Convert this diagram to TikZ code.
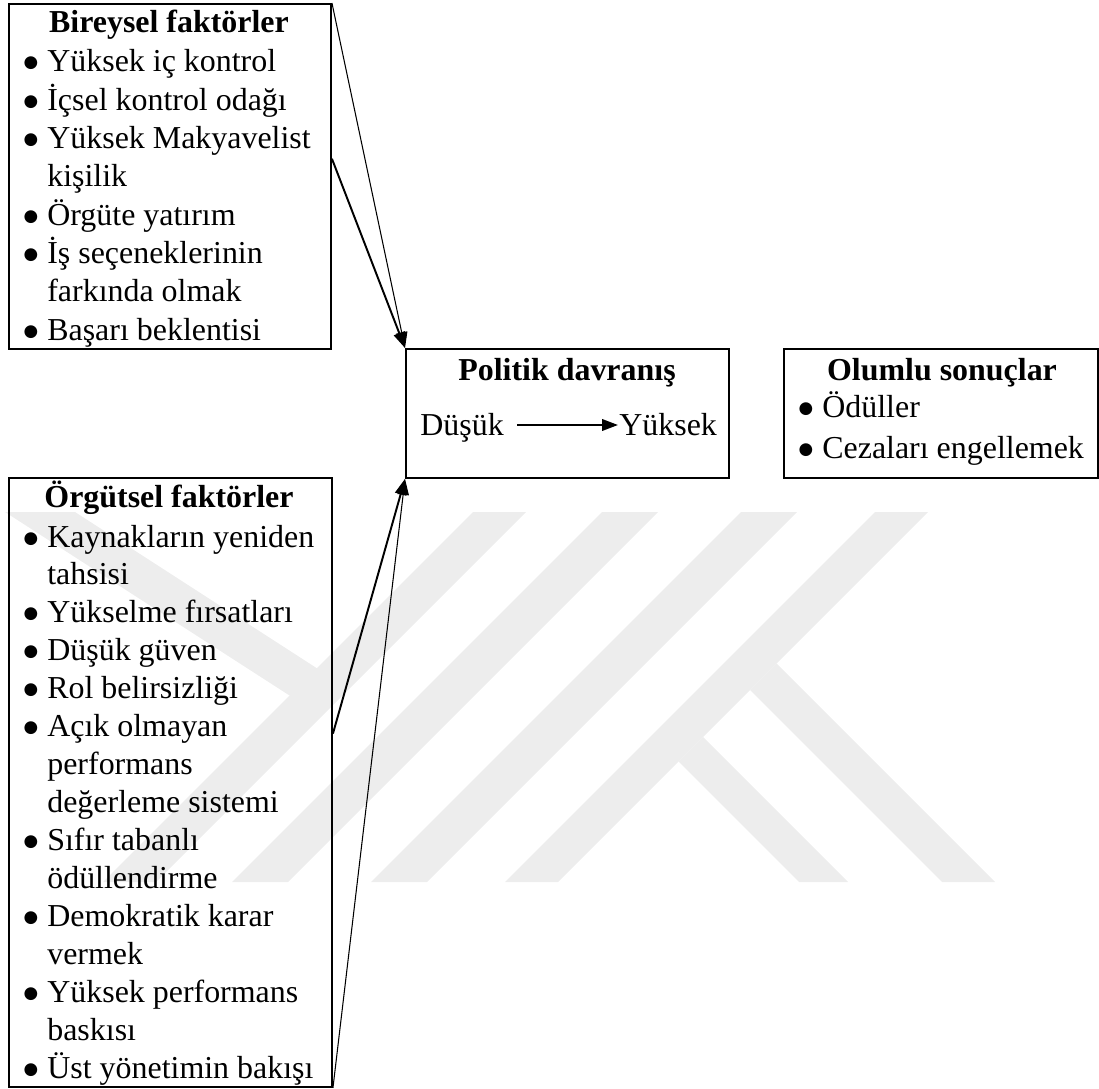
\documentclass[tikz,border=0pt]{standalone}
\usepackage{fontspec}
\setmainfont{Liberation Serif}
\newfontfamily\dejavu{DejaVu Sans}
\usetikzlibrary{arrows.meta,calc}
\begin{document}
\begin{tikzpicture}[x=0.5669pt,y=-0.5669pt,
  box/.style={draw,line width=1.1pt,inner sep=0,anchor=north west},
  txt/.style={font=\fontsize{18.1}{21}\selectfont,inner sep=0,anchor=base west},
  ttl/.style={font=\fontsize{18.1}{21}\selectfont\bfseries,inner sep=0,anchor=base},
  bul/.style={font=\dejavu\fontsize{9.5}{11}\selectfont,inner sep=0,anchor=base},
  wm/.style={fill=black!7,draw=none},
  thinarrow/.style={line width=0.6pt,-{Triangle[length=9pt,width=6.5pt]}},
  thickarrow/.style={line width=1.1pt,-{Triangle[length=9pt,width=6.5pt]}}]
\path[use as bounding box] (0,0) rectangle (1099,1089);
% watermark
\fill[wm] (5,512) -- (75,512) -- (349,689) -- (289.5,695.5) -- cycle;
\fill[wm] (473,512) -- (526,512) -- (156,882) -- (103,882) -- cycle;
\fill[wm] (602,512) -- (658,512) -- (288,882) -- (232,882) -- cycle;
\fill[wm] (741,512) -- (797,512) -- (427,882) -- (371,882) -- cycle;
\fill[wm] (875,512) -- (928,512) -- (558,882) -- (505,882) -- cycle;
\fill[wm] (776.5,663.5) -- (995,882) -- (942,882) -- (750,690) -- cycle;
\fill[wm] (703,737) -- (848,882) -- (799,882) -- (678.5,761.5) -- cycle;
% boxes
\node[box,minimum width=322*0.5669pt,minimum height=345*0.5669pt] (bir) at (8,3) {};
\node[box,minimum width=323*0.5669pt,minimum height=129*0.5669pt] (pol) at (405,348) {};
\node[box,minimum width=314*0.5669pt,minimum height=129*0.5669pt] (olu) at (783,348) {};
\node[box,minimum width=323*0.5669pt,minimum height=609*0.5669pt] (org) at (8,477) {};
% Bireysel
\node[ttl] (birt) at (169,33) {Bireysel faktörler};
\foreach \k/\b/\t in {0/1/Yüksek iç kontrol,1/1/İçsel kontrol odağı,2/1/Yüksek Makyavelist,3/0/kişilik,4/1/Örgüte yatırım,5/1/İş seçeneklerinin,6/0/farkında olmak,7/1/Başarı beklentisi}{
  \node[txt] (bl\k) at (47,72+38.3*\k) {\t};
  \ifnum\b=1 \node[bul] (bb\k) at (31,68+38.3*\k) {●};\fi
}
% Orgutsel
\node[ttl] (orgt) at (169,507) {Örgütsel faktörler};
\foreach \k/\b/\t in {0/1/Kaynakların yeniden,1/0/tahsisi,2/1/Yükselme fırsatları,3/1/Düşük güven,4/1/Rol belirsizliği,5/1/Açık olmayan,6/0/performans,7/0/değerleme sistemi,8/1/Sıfır tabanlı,9/0/ödüllendirme,10/1/Demokratik karar,11/0/vermek,12/1/Yüksek performans,13/0/baskısı,14/1/Üst yönetimin bakışı}{
  \node[txt] (ol\k) at (47,547+37.93*\k) {\t};
  \ifnum\b=1 \node[bul] (ob\k) at (31,543+37.93*\k) {●};\fi
}
% Politik
\node[ttl] (polt) at (567,380) {Politik davranış};
\node[txt] (dusuk) at (420,435) {Düşük};
\node[txt] (yuksek) at (619,435) {Yüksek};
\draw[line width=1.2pt,-{Triangle[length=9pt,width=6.5pt]}] ($(dusuk.base east)+(13,-10)$) -- ($(yuksek.base west)+(-1,-10)$);
% Olumlu
\node[ttl] (olut) at (942,380) {Olumlu sonuçlar};
\node[bul] (ub1) at (806,413) {●};
\node[txt] (ut1) at (822,417) {Ödüller};
\node[bul] (ub2) at (806,454) {●};
\node[txt] (ut2) at (822,458) {Cezaları engellemek};
% connectors
\coordinate (bs) at ($(bir.north east)!0.449!(bir.south east)$);
\coordinate (os) at ($(org.north east)!0.42!(org.south east)$);
\draw[thinarrow] (bir.north east) -- (pol.north west);
\draw[thickarrow] (bs) -- (pol.north west);
\draw[thickarrow] (os) -- (pol.south west);
\draw[thinarrow] (org.south east) -- (pol.south west);
\end{tikzpicture}
\end{document}
